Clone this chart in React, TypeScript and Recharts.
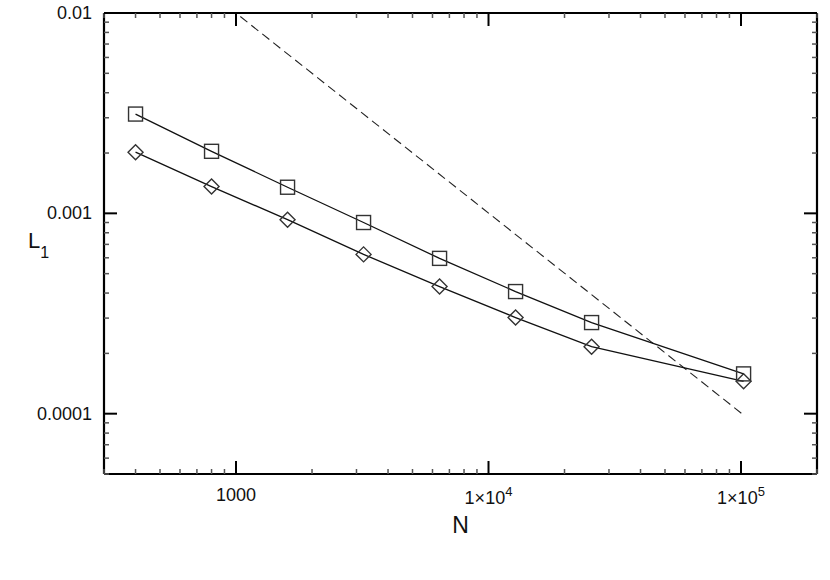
import React from 'react';
import { LineChart, Line, XAxis, YAxis } from 'recharts';

// simulation sizes N and the L1 error for the two schemes
const N_VALUES = [400, 800, 1600, 3200, 6400, 12800, 25600, 102400];
const SQUARE_L1 = [0.00313, 0.00204, 0.00135, 0.0009, 0.000596, 0.000407, 0.000285, 0.000158];
const DIAMOND_L1 = [0.00202, 0.00136, 0.00093, 0.000624, 0.000431, 0.000302, 0.000216, 0.000145];

// reference slope line (dashed)
const REF_N = [1040, 102400];
const REF_L1 = [0.0096, 0.0000985];

const X_DOMAIN = [300, 200000];
const Y_DOMAIN = [0.00005, 0.01];

const X_MAJOR = [1000, 10000, 100000];
const X_TICKS = [
    300, 400, 500, 600, 700, 800, 900, 1000,
    2000, 3000, 4000, 5000, 6000, 7000, 8000, 9000, 10000,
    20000, 30000, 40000, 50000, 60000, 70000, 80000, 90000, 100000, 200000,
];
const Y_MAJOR = [0.0001, 0.001, 0.01];
const Y_TICKS = [
    0.00005, 0.00006, 0.00007, 0.00008, 0.00009, 0.0001,
    0.0002, 0.0003, 0.0004, 0.0005, 0.0006, 0.0007, 0.0008, 0.0009, 0.001,
    0.002, 0.003, 0.004, 0.005, 0.006, 0.007, 0.008, 0.009, 0.01,
];
const X_LABELS: any = { 1000: ['1000', ''], 10000: ['1×10', '4'], 100000: ['1×10', '5'] };
const Y_LABELS: any = { 0.0001: '0.0001', 0.001: '0.001', 0.01: '0.01' };

const FONT = '"Liberation Sans", Arial, Helvetica, sans-serif';
const INK = '#111';

const squareData = N_VALUES.map((n, i) => ({ n, v: SQUARE_L1[i] }));
const diamondData = N_VALUES.map((n, i) => ({ n, v: DIAMOND_L1[i] }));
const refData = REF_N.map((n, i) => ({ n, v: REF_L1[i] }));

const isMajor = (list: number[], v: number) => list.some(m => Math.abs(m - v) / m < 1e-6);

const tickLen = (major: boolean) => (major ? 13 : 5);
const tickColor = (major: boolean) => (major ? '#000' : '#555');

const BottomTick = (props: any) => {
    const { x, y, payload } = props;
    const major = isMajor(X_MAJOR, payload.value);
    const lab = major ? X_LABELS[payload.value] : null;
    return (
        <g>
            <line x1={x} x2={x} y1={y} y2={y - tickLen(major)} stroke={tickColor(major)} strokeWidth={major ? 2 : 1.5} />
            {lab && (
                <text x={x} y={lab[1] ? y + 30 : y + 27} textAnchor="middle" fontSize={18} fontFamily={FONT} fill={INK}>
                    {lab[0]}
                    {lab[1] && <tspan dy={-8} fontSize={13}>{lab[1]}</tspan>}
                </text>
            )}
        </g>
    );
};

const TopTick = (props: any) => {
    const { x, y, payload } = props;
    const major = isMajor(X_MAJOR, payload.value);
    return <line x1={x} x2={x} y1={y} y2={y + tickLen(major)} stroke={tickColor(major)} strokeWidth={major ? 2 : 1.5} />;
};

const LeftTick = (props: any) => {
    const { x, y, payload } = props;
    const major = isMajor(Y_MAJOR, payload.value);
    return (
        <g>
            <line x1={x} x2={x + tickLen(major)} y1={y} y2={y} stroke={tickColor(major)} strokeWidth={major ? 2 : 1.5} />
            {major && (
                <text x={x - 12} y={y + 6} textAnchor="end" fontSize={18} fontFamily={FONT} fill={INK}>
                    {Y_LABELS[payload.value]}
                </text>
            )}
        </g>
    );
};

const RightTick = (props: any) => {
    const { x, y, payload } = props;
    const major = isMajor(Y_MAJOR, payload.value);
    return <line x1={x} x2={x - tickLen(major)} y1={y} y2={y} stroke={tickColor(major)} strokeWidth={major ? 2 : 1.5} />;
};

const SquareDot = (props: any) => {
    const { cx, cy, index } = props;
    if (cx == null || cy == null) return null;
    return <rect key={`sq-${index}`} x={cx - 7} y={cy - 7} width={14} height={14} fill="none" stroke="#333" strokeWidth={1.4} />;
};

const DiamondDot = (props: any) => {
    const { cx, cy, index } = props;
    if (cx == null || cy == null) return null;
    const r = 7.5;
    return (
        <polygon
            key={`dm-${index}`}
            points={`${cx},${cy - r} ${cx + r},${cy} ${cx},${cy + r} ${cx - r},${cy}`}
            fill="none"
            stroke="#333"
            strokeWidth={1.4}
        />
    );
};

const axisLine = { stroke: '#000', strokeWidth: 2.2 };

export default function App() {
    return (
        <div style={{ position: 'absolute', left: 0, top: 0, width: 830, height: 580, background: '#fff' }}>
            <LineChart width={830} height={580} margin={{ top: 12, right: 12, bottom: 105, left: 103 }}>
                <XAxis
                    xAxisId="b"
                    dataKey="n"
                    type="number"
                    scale="log"
                    domain={X_DOMAIN}
                    allowDataOverflow
                    ticks={X_TICKS}
                    interval={0}
                    height={1}
                    tickSize={0}
                    tickMargin={0}
                    axisLine={axisLine}
                    tickLine={false}
                    tick={<BottomTick />}
                    label={{
                        content: ({ viewBox }: any) => (
                            <text x={viewBox.x + viewBox.width / 2} y={viewBox.y + 59} textAnchor="middle" fontSize={23} fontFamily={FONT} fill={INK}>
                                N
                            </text>
                        ),
                    }}
                />
                <XAxis
                    xAxisId="t"
                    orientation="top"
                    dataKey="n"
                    type="number"
                    scale="log"
                    domain={X_DOMAIN}
                    allowDataOverflow
                    ticks={X_TICKS}
                    interval={0}
                    height={1}
                    tickSize={0}
                    tickMargin={0}
                    axisLine={axisLine}
                    tickLine={false}
                    tick={<TopTick />}
                />
                <YAxis
                    yAxisId="l"
                    type="number"
                    scale="log"
                    domain={Y_DOMAIN}
                    allowDataOverflow
                    ticks={Y_TICKS}
                    interval={0}
                    width={1}
                    tickSize={0}
                    tickMargin={0}
                    axisLine={axisLine}
                    tickLine={false}
                    tick={<LeftTick />}
                    label={{
                        content: ({ viewBox }: any) => (
                            <text x={viewBox.x - 75} y={viewBox.y + 235} fontSize={22} fontFamily={FONT} fill={INK}>
                                L<tspan dy={10} fontSize={16}>1</tspan>
                            </text>
                        ),
                    }}
                />
                <YAxis
                    yAxisId="r"
                    orientation="right"
                    type="number"
                    scale="log"
                    domain={Y_DOMAIN}
                    allowDataOverflow
                    ticks={Y_TICKS}
                    interval={0}
                    width={1}
                    tickSize={0}
                    tickMargin={0}
                    axisLine={axisLine}
                    tickLine={false}
                    tick={<RightTick />}
                />
                <Line
                    xAxisId="b"
                    yAxisId="l"
                    data={refData}
                    dataKey="v"
                    type="linear"
                    stroke="#222"
                    strokeWidth={1.1}
                    strokeDasharray="9 5"
                    dot={false}
                    isAnimationActive={false}
                />
                <Line
                    xAxisId="b"
                    yAxisId="l"
                    data={squareData}
                    dataKey="v"
                    type="linear"
                    stroke="#111"
                    strokeWidth={1.3}
                    dot={<SquareDot />}
                    isAnimationActive={false}
                />
                <Line
                    xAxisId="b"
                    yAxisId="l"
                    data={diamondData}
                    dataKey="v"
                    type="linear"
                    stroke="#111"
                    strokeWidth={1.3}
                    dot={<DiamondDot />}
                    isAnimationActive={false}
                />
            </LineChart>
        </div>
    );
}
